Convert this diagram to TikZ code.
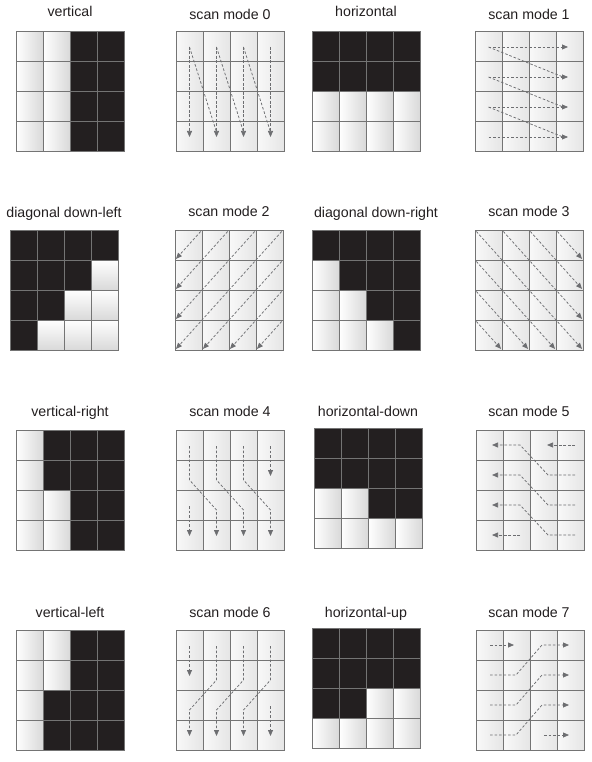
\documentclass[tikz,border=0pt]{standalone}
\usepackage{fontspec}
\setmainfont{Liberation Sans}
\usetikzlibrary{arrows.meta}
\definecolor{ink}{HTML}{231F20}
\definecolor{cellgray}{HTML}{D9D9D9}
\definecolor{linegray}{HTML}{747474}
\definecolor{arrowgray}{HTML}{6D6E71}
\tikzset{
  lbl/.style={font=\fontsize{14.2}{17}\selectfont, text=ink, anchor=base, inner sep=0pt},
  gridline/.style={draw=linegray, line width=1pt, line cap=rect},
  darkcell/.style={fill=ink},
  scanline/.style={draw=arrowgray, line width=0.75pt, dash pattern=on 2.6pt off 1.9pt},
  scanpath/.style={scanline, -{Triangle[length=6pt,width=5pt]}},
  hshade/.style={left color=white, right color=cellgray},
  vshade/.style={top color=white, bottom color=cellgray},
  sshade/.style={left color=gray!5, right color=gray!20},
}
\newcommand\gridlines{%
  \foreach \i in {0,...,4}{\draw[gridline] (27*\i,0) -- (27*\i,120); \draw[gridline] (0,30*\i) -- (108,30*\i);}}
\newcommand\patgrid[4][hshade]{%
  \begin{scope}[shift={(#2,#3)}]
    \foreach \c in {0,...,3}{\foreach \r in {0,...,3}{\shade[#1] (27*\c,30*\r) rectangle ++(27,30);}}
    \foreach \c/\r in {#4}{\fill[darkcell] (27*\c,30*\r) rectangle ++(27,30);}
    \gridlines
  \end{scope}}
\newcommand\scangrid{%
  \foreach \c in {0,...,3}{\foreach \r in {0,...,3}{\shade[sshade] (27*\c,30*\r) rectangle ++(27,30);}}
  \gridlines}
\begin{document}
\begin{tikzpicture}[x=1pt,y=-1pt]
\useasboundingbox[fill=white] (0,0) rectangle (591,762);
% ---------- labels ----------
\node[lbl] (l1) at (70,17) {vertical};
\node[lbl] (l2) at (230,20) {scan mode 0};
\node[lbl] (l3) at (366,17) {horizontal};
\node[lbl] (l4) at (529,20) {scan mode 1};
\node[lbl] (l5) at (64,217) {diagonal down-left};
\node[lbl] (l6) at (229,216) {scan mode 2};
\node[lbl] (l7) at (376,217) {diagonal down-right};
\node[lbl] (l8) at (529,216) {scan mode 3};
\node[lbl] (l9) at (70,416) {vertical-right};
\node[lbl] (l10) at (230,416) {scan mode 4};
\node[lbl] (l11) at (368,416) {horizontal-down};
\node[lbl] (l12) at (529,416) {scan mode 5};
\node[lbl] (l13) at (70,617) {vertical-left};
\node[lbl] (l14) at (230,617) {scan mode 6};
\node[lbl] (l15) at (366,617) {horizontal-up};
\node[lbl] (l16) at (529,617) {scan mode 7};
% ---------- pattern grids ----------
\patgrid{16}{32}{2/0,3/0,2/1,3/1,2/2,3/2,2/3,3/3}
\patgrid{312}{32}{0/0,1/0,2/0,3/0,0/1,1/1,2/1,3/1}
\patgrid[vshade]{10}{230}{0/0,1/0,2/0,3/0,0/1,1/1,2/1,0/2,1/2,0/3}
\patgrid{312}{230}{0/0,1/0,2/0,3/0,1/1,2/1,3/1,2/2,3/2,3/3}
\patgrid{16}{430}{1/0,2/0,3/0,1/1,2/1,3/1,2/2,3/2,2/3,3/3}
\patgrid{314}{428}{0/0,1/0,2/0,3/0,0/1,1/1,2/1,3/1,2/2,3/2}
\patgrid{16}{630}{2/0,3/0,2/1,3/1,1/2,2/2,3/2,1/3,2/3,3/3}
\patgrid{312}{628}{0/0,1/0,2/0,3/0,0/1,1/1,2/1,3/1,0/2,1/2}
% ---------- scan mode 0 ----------
\begin{scope}[shift={(176,32)}]
  \scangrid
  \foreach \c in {0,...,3}{\draw[scanpath] (13.5+27*\c,15) -- (13.5+27*\c,105);}
  \foreach \c in {0,1,2}{\draw[scanline] (13.5+27*\c,15) -- (40.5+27*\c,100);}
\end{scope}
% ---------- scan mode 1 ----------
\begin{scope}[shift={(475,32)}]
  \scangrid
  \foreach \r in {0,...,3}{\draw[scanpath] (13.5,15+30*\r) -- (93,15+30*\r);}
  \foreach \r in {0,1,2}{\draw[scanline] (13.5,15+30*\r) -- (88,45+30*\r);}
\end{scope}
% ---------- scan mode 2 ----------
\begin{scope}[shift={(175,230)}]
  \scangrid
  \foreach \k in {1,...,4}{\draw[scanpath, shorten <=2pt, shorten >=1.5pt] (27*\k,0) -- (0,30*\k);}
  \foreach \r in {1,2,3}{\draw[scanpath, shorten <=2pt, shorten >=1.5pt] (108,30*\r) -- (27*\r,120);}
\end{scope}
% ---------- scan mode 3 ----------
\begin{scope}[shift={(475,230)}]
  \scangrid
  \foreach \c in {0,...,3}{\draw[scanpath, shorten <=2pt, shorten >=1.5pt] (27*\c,0) -- (108,120-30*\c);}
  \foreach \r in {1,2,3}{\draw[scanpath, shorten <=2pt, shorten >=1.5pt] (0,30*\r) -- (108-27*\r,120);}
\end{scope}
% ---------- scan mode 4 ----------
\begin{scope}[shift={(176,430)}]
  \scangrid
  \draw[scanpath] (94.5,16) -- (94.5,46);
  \draw[scanpath] (13.5,76) -- (13.5,106);
  \foreach \c in {0,1,2}{\draw[scanpath] (13.5+27*\c,16) -- (13.5+27*\c,50) -- (40.5+27*\c,80) -- (40.5+27*\c,106);}
\end{scope}
% ---------- scan mode 5 ----------
\begin{scope}[shift={(476,430)}]
  \scangrid
  \draw[scanpath] (99,15) -- (71,15);
  \foreach \r in {0,1,2}{\draw[scanpath] (99,45+30*\r) -- (72,45+30*\r) -- (44,15+30*\r) -- (16,15+30*\r);}
  \draw[scanpath] (44,105) -- (16,105);
\end{scope}
% ---------- scan mode 6 ----------
\begin{scope}[shift={(176,630)}]
  \scangrid
  \draw[scanpath] (13.5,16) -- (13.5,46);
  \draw[scanpath] (94.5,76) -- (94.5,106);
  \foreach \c in {1,2,3}{\draw[scanpath] (13.5+27*\c,16) -- (13.5+27*\c,50) -- (27*\c-13.5,80) -- (27*\c-13.5,106);}
\end{scope}
% ---------- scan mode 7 ----------
\begin{scope}[shift={(476,630)}]
  \scangrid
  \draw[scanpath] (14,15) -- (38,15);
  \foreach \r in {1,2,3}{\draw[scanpath] (14,15+30*\r) -- (40,15+30*\r) -- (66,30*\r-15) -- (93,30*\r-15);}
  \draw[scanpath] (68,105) -- (93,105);
\end{scope}
\end{tikzpicture}
\end{document}
